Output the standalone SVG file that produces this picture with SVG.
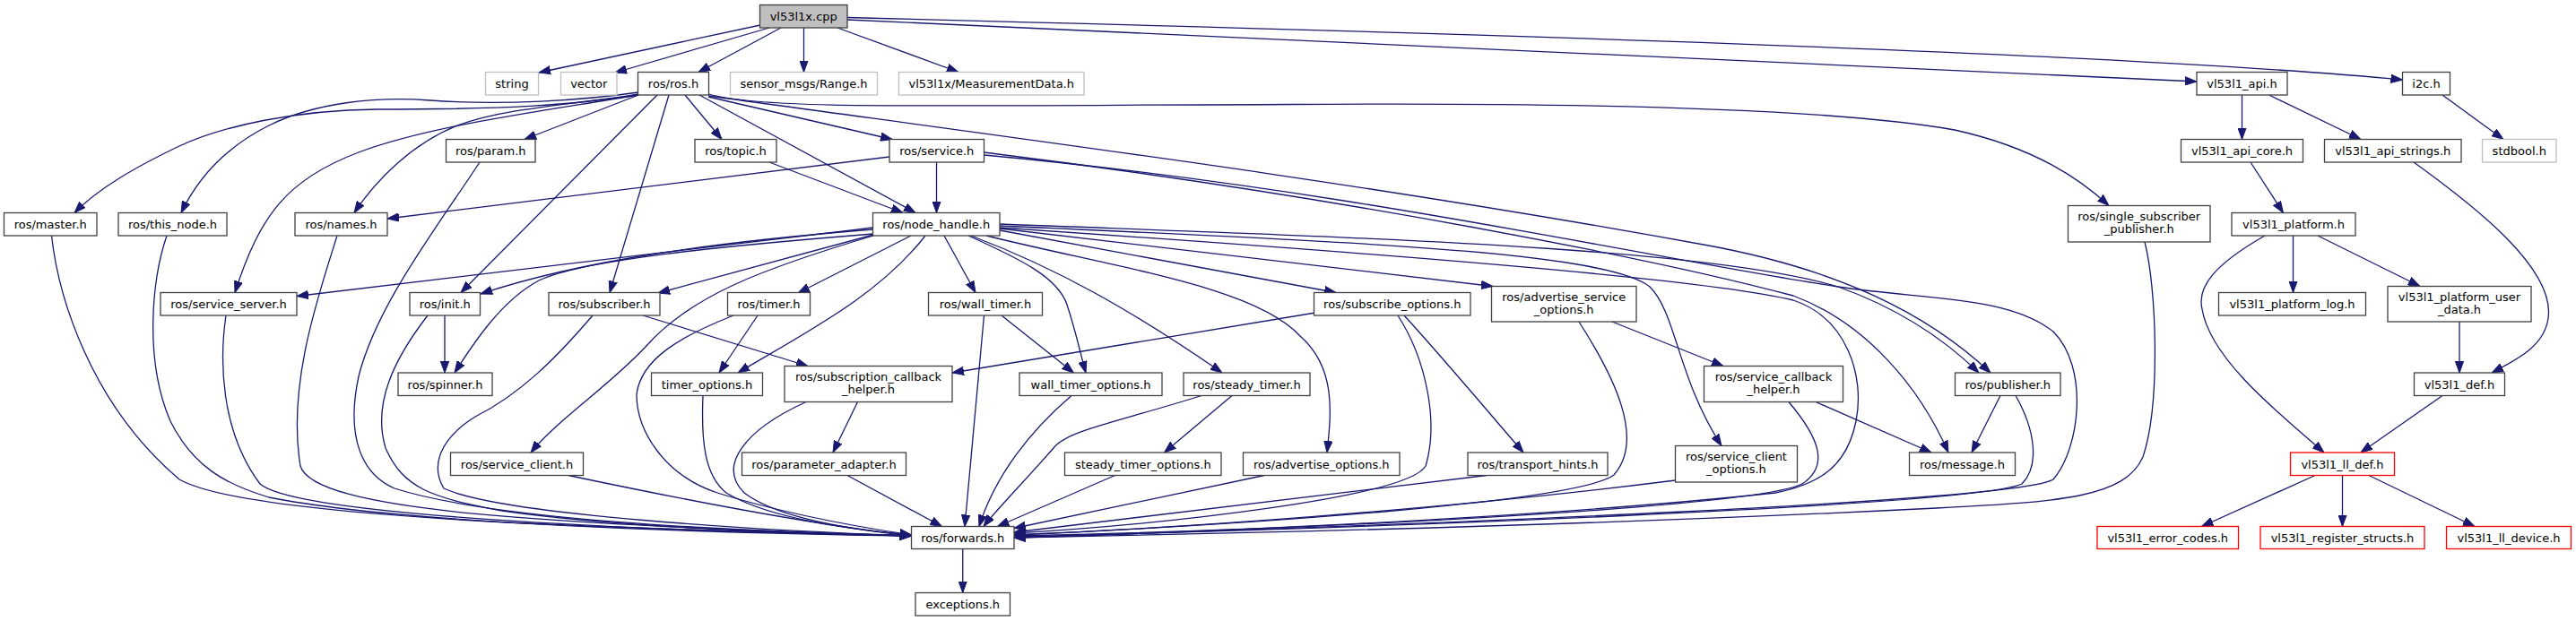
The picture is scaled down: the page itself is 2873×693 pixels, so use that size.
<svg xmlns="http://www.w3.org/2000/svg" width="2873" height="693" viewBox="0 0 2873 693">
<style>
.n rect{fill:#fff;stroke:#404040;stroke-width:1.3}
.ext rect{stroke:#bfbfbf}
.red rect{stroke:#ff0000}
.root rect{fill:#bfbfbf}
text{font-family:"DejaVu Sans",Verdana,sans-serif;font-size:13px;text-anchor:middle;fill:#000}
#edges path{fill:none;stroke:#191970;stroke-width:1.3;marker-end:url(#a)}
</style>
<defs>
<marker id="a" markerUnits="userSpaceOnUse" markerWidth="13" markerHeight="10" viewBox="0 0 13 9.4" refX="13" refY="4.7" orient="auto">
<path d="M0,0 L13,4.7 L0,9.4 z" fill="#191970" stroke="#191970"/>
</marker>
</defs>
<rect width="2873" height="693" fill="#fff"/>
<g id="edges">
<path d="M848,28 L601,81"/>
<path d="M858,31 L686,81"/>
<path d="M871,31 L779,80.5"/>
<path d="M896.5,31 L896.5,80.5"/>
<path d="M934,31 L1069,80.5"/>
<path d="M945,22 L2450,91"/>
<path d="M945,19.5 C1600,36 2350,58 2679.5,89"/>
<path d="M712,105 C640,118 560,122 420,122 C330,123 250,140 200,163 C150,187 110,210 83,237.5"/>
<path d="M712,103 C650,112 560,118 480,112 C420,107 350,115 300,140 C250,165 220,200 202,237.5"/>
<path d="M712,106 C620,118 560,122 510,140 C460,160 420,200 395,237.5"/>
<path d="M712,106 C600,125 480,140 400,170 C320,200 290,240 262,326.5"/>
<path d="M712,106 L585,155.5"/>
<path d="M733,106 L514,326.5"/>
<path d="M746,106 L680,326.5"/>
<path d="M764,106 L805,155.5"/>
<path d="M780,106 L1021,237.5"/>
<path d="M790,108 L995,155.5"/>
<path d="M790.5,105 C850,122 1000,118 1440,116.5 C1800,114 2050,122 2180,145 C2270,165 2320,200 2352,229.5"/>
<path d="M790.5,107 C1100,150 1500,200 1900,273 C2050,300 2150,350 2220,416"/>
<path d="M992,175 L432,244"/>
<path d="M1044.5,181 L1044.5,237.5"/>
<path d="M1097.5,170 C1500,220 1850,290 2000,330 C2080,360 2140,430 2173,505"/>
<path d="M1097.5,173 C1500,210 1850,290 2050,320 C2150,335 2240,330 2290,370 C2330,410 2320,500 2290,535 C2250,560 1600,585 1131,600"/>
<path d="M858,181 L1007,237.5"/>
<path d="M535,181 C490,250 420,340 400,420 C385,490 405,530 440,545 C550,580 800,592 1016.5,598"/>
<path d="M57.5,263 C65,330 100,450 200,535 C280,580 700,590 1016.5,598"/>
<path d="M186,263 C170,310 160,400 190,470 C215,520 250,540 300,555 C450,585 800,595 1016.5,598"/>
<path d="M376,263 C355,330 320,430 335,520 C350,570 600,585 1016.5,598"/>
<path d="M252,352 C245,400 245,480 290,540 C330,575 700,592 1016.5,598"/>
<path d="M477,352 C440,400 415,450 430,500 C450,545 480,555 560,570 C700,590 900,595 1016.5,598"/>
<path d="M496,352 L496,416"/>
<path d="M661,352 C620,400 580,440 530,465 C490,490 480,520 495,545 C560,575 850,592 1016.5,598"/>
<path d="M717,352 L901,408.5"/>
<path d="M973.5,254 L331,330.5"/>
<path d="M973.5,256 C800,270 650,290 536,328"/>
<path d="M974,262 L734,327"/>
<path d="M974,261 C800,275 650,290 601,313 C560,335 530,380 507,416"/>
<path d="M1016,263 L890,327"/>
<path d="M974,263 C850,300 770,330 720,387 C680,430 620,470 592,505"/>
<path d="M1032,263 C980,330 900,370 823,416"/>
<path d="M1053,263 L1088,326.5"/>
<path d="M1080,263 C1140,290 1180,310 1190,340 C1200,370 1205,395 1211,416"/>
<path d="M1083,263 C1180,300 1260,345 1363,416"/>
<path d="M1100,263 C1250,300 1400,320 1450,375 C1490,410 1485,460 1480,505"/>
<path d="M1115,257 L1490,326.5"/>
<path d="M1115,255 L1665,319.5"/>
<path d="M1115,252 C1500,270 1790,280 1840,320 C1870,350 1870,420 1920,497.5"/>
<path d="M1115,250 C1500,265 1900,275 2050,320 C2120,345 2170,380 2207,416"/>
<path d="M1115,254 C1500,280 1900,310 2000,335 C2060,355 2080,420 2070,470 C2060,520 2030,540 1980,550 C1700,580 1300,595 1131,600"/>
<path d="M845,352 L802,416"/>
<path d="M818,352 C760,375 715,400 710,440 C710,480 740,530 800,550 C880,575 970,590 1016.5,597"/>
<path d="M784,441.5 C782,490 785,530 810,550 C860,580 960,592 1016.5,597"/>
<path d="M899,448.5 C830,480 800,520 830,550 C870,580 960,592 1016.5,597"/>
<path d="M956.5,448.5 L929,505"/>
<path d="M945,530.5 L1050.5,587.5"/>
<path d="M1097.5,352 L1076,587.5"/>
<path d="M1117,352 L1197.5,416"/>
<path d="M1195,441.5 C1150,480 1110,530 1092,587.5"/>
<path d="M1340,441.5 C1250,470 1190,480 1175,500 C1140,540 1110,570 1097,587.5"/>
<path d="M1374,441.5 L1298.5,505"/>
<path d="M1243.5,530.5 L1112.5,587.5"/>
<path d="M1410,530.5 L1131,589.5"/>
<path d="M1559,352 C1590,400 1605,470 1590,520 C1570,555 1300,585 1131,595"/>
<path d="M1566,352 C1610,400 1660,460 1699,505"/>
<path d="M1467,349 L1062,416"/>
<path d="M1658,530.5 L1131,594"/>
<path d="M1761,359 C1800,420 1835,490 1800,530 C1760,560 1400,585 1131,597"/>
<path d="M1798,359 L1922,408.5"/>
<path d="M1868.5,536 C1600,570 1300,590 1131,597"/>
<path d="M1995,448.5 C2030,490 2040,520 2010,540 C1960,565 1500,590 1131,598"/>
<path d="M2025,448.5 L2154,505"/>
<path d="M2231,441.5 L2199,505"/>
<path d="M2248,441.5 C2270,480 2275,520 2255,540 C2200,565 1500,590 1131,599"/>
<path d="M2392,270 C2405,320 2410,450 2390,510 C2370,555 2300,560 2160,567 C1800,585 1400,595 1131,600"/>
<path d="M634,530.5 C750,555 900,585 1016.5,598"/>
<path d="M1073.75,612.5 L1073.75,661.5"/>
<path d="M2500.5,106 L2500.5,155.5"/>
<path d="M2530.5,106 L2633,155.5"/>
<path d="M2724,106 L2792,155.5"/>
<path d="M2510,181 L2546.5,237.5"/>
<path d="M2692,181 C2760,230 2850,300 2842,355 C2838,385 2810,400 2779,416"/>
<path d="M2526,263 C2470,295 2450,320 2456,345 C2465,400 2540,460 2592,505"/>
<path d="M2557.5,263 L2557.5,326.5"/>
<path d="M2585,263 L2699,319.5"/>
<path d="M2743,359 L2743,416"/>
<path d="M2724,441.5 L2633,505"/>
<path d="M2582,530.5 L2455.5,587.5"/>
<path d="M2612.5,530.5 L2612.5,587.5"/>
<path d="M2642,530.5 L2760,587.5"/>
</g>
<g id="n0" class="n root"><rect x="847.5" y="5.5" width="97.5" height="25.5"/><text x="896.25" y="23">vl53l1x.cpp</text></g>
<g id="n1" class="n ext"><rect x="541.5" y="80.5" width="59" height="25.5"/><text x="571" y="98">string</text></g>
<g id="n2" class="n ext"><rect x="625.5" y="80.5" width="62.5" height="25.5"/><text x="656.75" y="98">vector</text></g>
<g id="n3" class="n"><rect x="711.5" y="80.5" width="79" height="25.5"/><text x="751" y="98">ros/ros.h</text></g>
<g id="n4" class="n ext"><rect x="814.5" y="80.5" width="164" height="25.5"/><text x="896.5" y="98">sensor_msgs/Range.h</text></g>
<g id="n5" class="n ext"><rect x="1002.5" y="80.5" width="206.5" height="25.5"/><text x="1105.75" y="98">vl53l1x/MeasurementData.h</text></g>
<g id="n6" class="n"><rect x="2450" y="80.5" width="101" height="25.5"/><text x="2500.5" y="98">vl53l1_api.h</text></g>
<g id="n7" class="n"><rect x="2679.5" y="80.5" width="53" height="25.5"/><text x="2706" y="98">i2c.h</text></g>
<g id="n8" class="n"><rect x="497.5" y="155.5" width="99.5" height="25.5"/><text x="547.25" y="173">ros/param.h</text></g>
<g id="n9" class="n"><rect x="775" y="155.5" width="91" height="25.5"/><text x="820.5" y="173">ros/topic.h</text></g>
<g id="n10" class="n"><rect x="992" y="155.5" width="105.5" height="25.5"/><text x="1044.75" y="173">ros/service.h</text></g>
<g id="n11" class="n"><rect x="2432.5" y="155.5" width="136" height="25.5"/><text x="2500.5" y="173">vl53l1_api_core.h</text></g>
<g id="n12" class="n"><rect x="2592.5" y="155.5" width="152.5" height="25.5"/><text x="2668.75" y="173">vl53l1_api_strings.h</text></g>
<g id="n13" class="n ext"><rect x="2768.5" y="155.5" width="82.5" height="25.5"/><text x="2809.75" y="173">stdbool.h</text></g>
<g id="n14" class="n"><rect x="4.5" y="237.5" width="103.5" height="25.5"/><text x="56.25" y="255">ros/master.h</text></g>
<g id="n15" class="n"><rect x="132" y="237.5" width="121" height="25.5"/><text x="192.5" y="255">ros/this_node.h</text></g>
<g id="n16" class="n"><rect x="329" y="237.5" width="103" height="25.5"/><text x="380.5" y="255">ros/names.h</text></g>
<g id="n17" class="n"><rect x="973.5" y="237.5" width="141.5" height="25.5"/><text x="1044.25" y="255">ros/node_handle.h</text></g>
<g id="n18" class="n"><rect x="2306.5" y="229.5" width="158.5" height="40.5"/><text x="2385.75" y="245.5">ros/single_subscriber</text><text x="2385.75" y="259.5">_publisher.h</text></g>
<g id="n19" class="n"><rect x="2489" y="237.5" width="138" height="25.5"/><text x="2558" y="255">vl53l1_platform.h</text></g>
<g id="n20" class="n"><rect x="179" y="326.5" width="152" height="25.5"/><text x="255" y="344">ros/service_server.h</text></g>
<g id="n21" class="n"><rect x="457" y="326.5" width="78.5" height="25.5"/><text x="496.25" y="344">ros/init.h</text></g>
<g id="n22" class="n"><rect x="612" y="326.5" width="124" height="25.5"/><text x="674" y="344">ros/subscriber.h</text></g>
<g id="n23" class="n"><rect x="811.5" y="326.5" width="92" height="25.5"/><text x="857.5" y="344">ros/timer.h</text></g>
<g id="n24" class="n"><rect x="1035.5" y="326.5" width="127" height="25.5"/><text x="1099" y="344">ros/wall_timer.h</text></g>
<g id="n25" class="n"><rect x="1465.5" y="326.5" width="174.5" height="25.5"/><text x="1552.75" y="344">ros/subscribe_options.h</text></g>
<g id="n26" class="n"><rect x="1663.5" y="319.5" width="161.5" height="39.5"/><text x="1744.25" y="335.5">ros/advertise_service</text><text x="1744.25" y="349.5">_options.h</text></g>
<g id="n27" class="n"><rect x="2474.5" y="326.5" width="164" height="25.5"/><text x="2556.5" y="344">vl53l1_platform_log.h</text></g>
<g id="n28" class="n"><rect x="2663" y="319.5" width="160" height="39.5"/><text x="2743" y="335.5">vl53l1_platform_user</text><text x="2743" y="349.5">_data.h</text></g>
<g id="n29" class="n"><rect x="444" y="416" width="105" height="25.5"/><text x="496.5" y="433.5">ros/spinner.h</text></g>
<g id="n30" class="n"><rect x="726.5" y="416" width="124" height="25.5"/><text x="788.5" y="433.5">timer_options.h</text></g>
<g id="n31" class="n"><rect x="875" y="408.5" width="187" height="40"/><text x="968.5" y="424.5">ros/subscription_callback</text><text x="968.5" y="438.5">_helper.h</text></g>
<g id="n32" class="n"><rect x="1137" y="416" width="159" height="25.5"/><text x="1216.5" y="433.5">wall_timer_options.h</text></g>
<g id="n33" class="n"><rect x="1320" y="416" width="141" height="25.5"/><text x="1390.5" y="433.5">ros/steady_timer.h</text></g>
<g id="n34" class="n"><rect x="1900.5" y="408.5" width="155" height="40"/><text x="1978" y="424.5">ros/service_callback</text><text x="1978" y="438.5">_helper.h</text></g>
<g id="n35" class="n"><rect x="2180.5" y="416" width="117.5" height="25.5"/><text x="2239.25" y="433.5">ros/publisher.h</text></g>
<g id="n36" class="n"><rect x="2692.5" y="416" width="101" height="25.5"/><text x="2743" y="433.5">vl53l1_def.h</text></g>
<g id="n37" class="n"><rect x="502.5" y="505" width="148" height="25.5"/><text x="576.5" y="522.5">ros/service_client.h</text></g>
<g id="n38" class="n"><rect x="827.5" y="505" width="183" height="25.5"/><text x="919" y="522.5">ros/parameter_adapter.h</text></g>
<g id="n39" class="n"><rect x="1187.5" y="505" width="174.5" height="25.5"/><text x="1274.75" y="522.5">steady_timer_options.h</text></g>
<g id="n40" class="n"><rect x="1386.5" y="505" width="174.5" height="25.5"/><text x="1473.75" y="522.5">ros/advertise_options.h</text></g>
<g id="n41" class="n"><rect x="1637" y="505" width="156" height="25.5"/><text x="1715" y="522.5">ros/transport_hints.h</text></g>
<g id="n42" class="n"><rect x="1868.5" y="497.5" width="136" height="40.5"/><text x="1936.5" y="513.5">ros/service_client</text><text x="1936.5" y="527.5">_options.h</text></g>
<g id="n43" class="n"><rect x="2129.5" y="505" width="118" height="25.5"/><text x="2188.5" y="522.5">ros/message.h</text></g>
<g id="n44" class="n red"><rect x="2554.5" y="505" width="116" height="25.5"/><text x="2612.5" y="522.5">vl53l1_ll_def.h</text></g>
<g id="n45" class="n"><rect x="1016.5" y="587.5" width="114.5" height="25"/><text x="1073.75" y="604.5">ros/forwards.h</text></g>
<g id="n46" class="n red"><rect x="2339" y="587.5" width="157.5" height="25"/><text x="2417.75" y="604.5">vl53l1_error_codes.h</text></g>
<g id="n47" class="n red"><rect x="2521" y="587.5" width="183" height="25"/><text x="2612.5" y="604.5">vl53l1_register_structs.h</text></g>
<g id="n48" class="n red"><rect x="2728.5" y="587.5" width="139" height="25"/><text x="2798" y="604.5">vl53l1_ll_device.h</text></g>
<g id="n49" class="n"><rect x="1021" y="661.5" width="105.5" height="25.5"/><text x="1073.75" y="679">exceptions.h</text></g>
</svg>
